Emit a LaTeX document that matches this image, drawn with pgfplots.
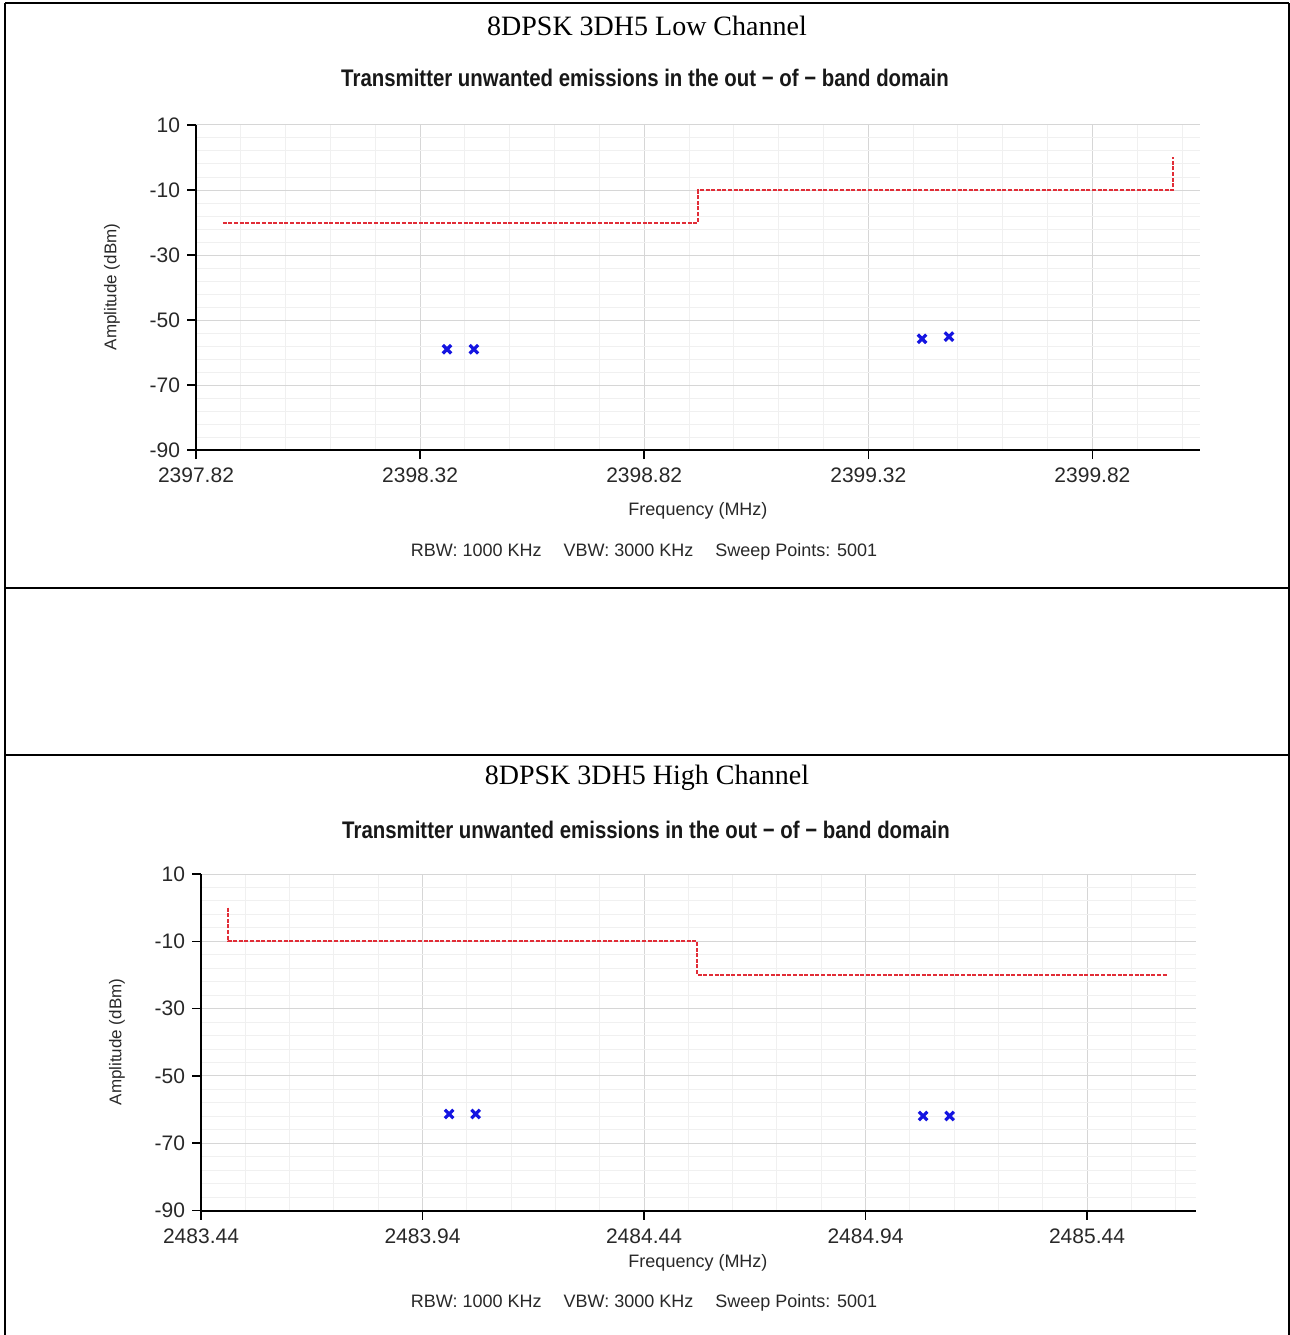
\documentclass[border=0pt]{standalone}
\usepackage{fontspec}
\setmainfont{Liberation Sans}
\newfontfamily\timesfont{Liberation Serif}
\usepackage{pgfplots}
\pgfplotsset{compat=1.18}
\definecolor{limred}{RGB}{225,45,55}
\definecolor{mkblue}{RGB}{20,20,225}
\definecolor{txt}{RGB}{40,40,40}
\pgfplotsset{
  spec/.style={
    scale only axis,
    axis x line*=bottom, axis y line*=left,
    axis line style={black, line width=1pt},
    ymin=-90, ymax=10,
    ytick={-90,-70,-50,-30,-10,10},
    yticklabels={-90,-70,-50,-30,-10,10},
    minor ytick={-86,-82,-78,-74,-66,-62,-58,-54,-46,-42,-38,-34,-26,-22,-18,-14,-6,-2,2,6},
    tick align=outside,
    major tick length=4.5pt,
    minor tick length=0pt,
    tick style={black, line width=0.8pt},
    grid=both,
    major grid style={gray!32, line width=0.5pt},
    minor grid style={gray!12, line width=0.5pt},
    tick label style={font=\fontsize{10.5}{12}\selectfont, text=txt},
    xticklabel style={yshift=-1pt},
    clip=false,
  },
  limit/.style={limred, line width=1pt, dash pattern=on 2pt off 0.8pt, no marks},
  meas/.style={only marks, mark=x, mark size=3pt, mark options={mkblue, line width=1.6pt}},
}
\begin{document}
\begin{tikzpicture}
\begin{scope}[x=0.5pt,y=-0.5pt]
\useasboundingbox (0,0) rectangle (1290,1335);
\draw[line width=0.9pt] (5,3) -- (1289,3);
\draw[line width=0.9pt] (5,3) -- (5,1335);
\draw[line width=0.9pt] (1289,3) -- (1289,1335);
\draw[line width=0.9pt] (5,588) -- (1289,588);
\draw[line width=0.9pt] (5,755) -- (1289,755);
% texts chart 1
\node[font=\timesfont\fontsize{14}{16}\selectfont] at (647,26) {8DPSK 3DH5 Low Channel};
\node[text=txt!60!black] at (645,78) {\scalebox{0.85}[1]{\bfseries\fontsize{12}{14}\selectfont Transmitter unwanted emissions in the out − of − band domain}};
\node[rotate=90, font=\fontsize{8.5}{10}\selectfont, text=txt] at (112,287) {Amplitude (dBm)};
\node[font=\fontsize{9}{11}\selectfont, text=txt] at (698,511) {Frequency (MHz)};
\node[font=\fontsize{9}{11}\selectfont, text=txt] at (644,552) {RBW: 1000 KHz\hspace{11pt}VBW: 3000 KHz\hspace{11pt}Sweep Points: 5001};
% texts chart 2
\node[font=\timesfont\fontsize{14}{16}\selectfont] at (647,778) {8DPSK 3DH5 High Channel};
\node[text=txt!60!black] at (646,830) {\scalebox{0.85}[1]{\bfseries\fontsize{12}{14}\selectfont Transmitter unwanted emissions in the out − of − band domain}};
\node[rotate=90, font=\fontsize{8.5}{10}\selectfont, text=txt] at (117,1042) {Amplitude (dBm)};
\node[font=\fontsize{9}{11}\selectfont, text=txt] at (698,1263) {Frequency (MHz)};
\node[font=\fontsize{9}{11}\selectfont, text=txt] at (644,1303) {RBW: 1000 KHz\hspace{11pt}VBW: 3000 KHz\hspace{11pt}Sweep Points: 5001};
\end{scope}

\begin{axis}[spec, at={(98pt,-225pt)}, anchor=south west,
  width=502pt, height=162.5pt,
  xmin=2397.82, xmax=2400.06,
  xtick={2397.82,2398.32,2398.82,2399.32,2399.82},
  xticklabels={2397.82,2398.32,2398.82,2399.32,2399.82},
  minor xtick={2397.92,2398.02,2398.12,2398.22,2398.42,2398.52,2398.62,2398.72,2398.92,2399.02,2399.12,2399.22,2399.42,2399.52,2399.62,2399.72,2399.92,2400.02},
]
\addplot[limit] coordinates {(2397.88,-20) (2398.94,-20) (2398.94,-10) (2400.00,-10) (2400.00,0)};
\addplot[meas] coordinates {(2398.38,-59.0) (2398.44,-59.0) (2399.44,-55.8) (2399.50,-55.1)};
\end{axis}

\begin{axis}[spec, at={(100.5pt,-605.25pt)}, anchor=south west,
  width=497.5pt, height=168.25pt,
  xmin=2483.44, xmax=2485.686,
  xtick={2483.44,2483.94,2484.44,2484.94,2485.44},
  xticklabels={2483.44,2483.94,2484.44,2484.94,2485.44},
  minor xtick={2483.54,2483.64,2483.74,2483.84,2484.04,2484.14,2484.24,2484.34,2484.54,2484.64,2484.74,2484.84,2485.04,2485.14,2485.24,2485.34,2485.54,2485.64},
]
\addplot[limit] coordinates {(2483.50,0) (2483.50,-10) (2484.56,-10) (2484.56,-20) (2485.62,-20)};
\addplot[meas] coordinates {(2484.00,-61.3) (2484.06,-61.3) (2485.07,-61.9) (2485.13,-61.9)};
\end{axis}
\end{tikzpicture}
\end{document}
